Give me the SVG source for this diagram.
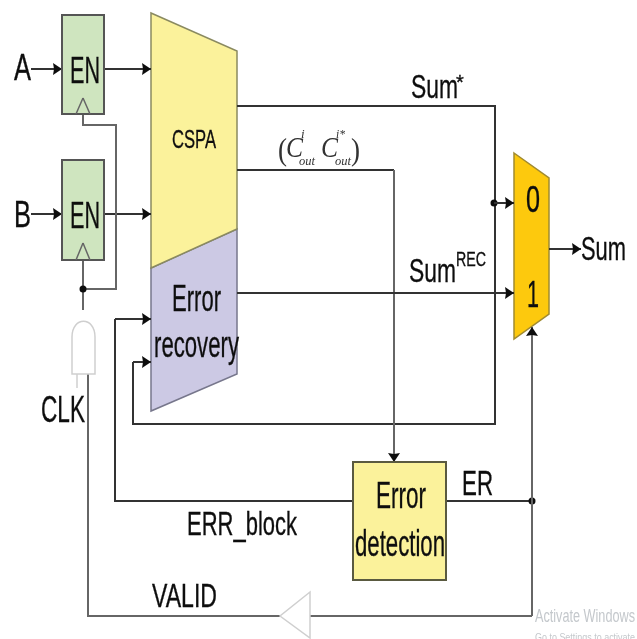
<svg xmlns="http://www.w3.org/2000/svg" width="637" height="639" viewBox="0 0 637 639">
<defs>
<filter id="soft" x="-5%" y="-5%" width="110%" height="110%"><feGaussianBlur stdDeviation="0.6"/></filter>
<marker id="arr" markerUnits="userSpaceOnUse" markerWidth="10" markerHeight="14" refX="9" refY="6" orient="auto"><path d="M0,0 L9,6 L0,12 L1,6 Z" fill="#111"/></marker>
</defs>
<style>
.w{fill:none;stroke:#333;stroke-width:2}
.g{fill:none;stroke:#666;stroke-width:2}
.a{marker-end:url(#arr)}
.en{fill:#cfe5bf;stroke:#555;stroke-width:2}
.t{font-family:"Liberation Sans",Arial,sans-serif;fill:#111;stroke:#111;stroke-width:.35;font-size:37px}
.m{font-family:"Liberation Serif","Times New Roman",serif;font-style:italic;fill:#333}
.pale{fill:#fff;stroke:#cfcfcf;stroke-width:1.5}
</style>
<rect width="637" height="639" fill="#fff"/>
<g filter="url(#soft)">
<g id="error-recovery">
<path d="M151,268 L237,229 V374 L151,411 Z" fill="#ccc9e4" stroke="#77778c" stroke-width="1.5"/>
<text class="t" x="172" y="311" textLength="49" lengthAdjust="spacingAndGlyphs">Error</text>
<text class="t" x="154" y="357" textLength="85" lengthAdjust="spacingAndGlyphs">recovery</text>
</g>
<g id="cspa">
<path d="M151,13 L237,51 V229 L151,268 Z" fill="#fbf29b" stroke="#8a8a60" stroke-width="1.5"/>
<text class="t" x="172" y="148" style="font-size:26px" textLength="44" lengthAdjust="spacingAndGlyphs">CSPA</text>
</g>
<g id="mux">
<path d="M514,153 L549,178 V314 L514,339 Z" fill="#fdc90a" stroke="#a08a30" stroke-width="1.5"/>
<text class="t" x="526" y="212" textLength="14" lengthAdjust="spacingAndGlyphs">0</text>
<text class="t" x="527" y="307" textLength="12" lengthAdjust="spacingAndGlyphs">1</text>
</g>
<g id="connectors">
<path class="w a" d="M31,69H62"/>
<path class="w a" d="M104,69H151"/>
<path class="w a" d="M31,214H62"/>
<path class="w a" d="M104,214H151"/>
<path class="g" d="M83,114V125H116V289H83"/>
<path class="g" d="M83,260V310"/>
<circle cx="83" cy="289" r="3.5" fill="#111"/>
<path class="w" d="M237,106H495V424H133V362"/>
<path class="w a" d="M133,362H151"/>
<path class="w" d="M237,170H394"/>
<path class="g a" d="M394,170V462"/>
<path class="w a" d="M237,293H514"/>
<circle cx="494" cy="203" r="3.5" fill="#111"/>
<path class="w a" d="M494,203H514"/>
<path class="w a" d="M549,249H581"/>
<path class="w" d="M446,501H532"/>
<circle cx="532" cy="501" r="3.5" fill="#111"/>
<path class="w" d="M353,501H115V319"/>
<path class="w a" d="M115,319H151"/>
<path class="g" d="M310,616H532"/>
<path class="g a" d="M532,616V327"/>
<path class="g" d="M280,616H88V374"/>
<path d="M77,374V388" fill="none" stroke="#cfcfcf" stroke-width="1.5"/>
</g>
<g id="en-a">
<rect class="en" x="62" y="15" width="42" height="99"/>
<path d="M83,98 L76,114 M83,98 L90,114" fill="none" stroke="#666" stroke-width="1.5"/>
<text class="t" x="70" y="83" textLength="30" lengthAdjust="spacingAndGlyphs">EN</text>
</g>
<g id="en-b">
<rect class="en" x="62" y="160" width="42" height="100"/>
<path d="M83,243 L76,260 M83,243 L90,260" fill="none" stroke="#666" stroke-width="1.5"/>
<text class="t" x="70" y="228" textLength="30" lengthAdjust="spacingAndGlyphs">EN</text>
</g>
<g id="error-detection">
<rect x="353" y="462" width="93" height="118" fill="#fbf29b" stroke="#5a5a40" stroke-width="2"/>
<text class="t" x="376" y="508" textLength="50" lengthAdjust="spacingAndGlyphs">Error</text>
<text class="t" x="355" y="556" textLength="90" lengthAdjust="spacingAndGlyphs">detection</text>
</g>
<g id="and-gate">
<path class="pale" d="M72,374 V337 C72,316 95,316 95,337 V374 Z"/>
</g>
<g id="buffer">
<path class="pale" d="M310,592 L280,616 L310,638 Z"/>
</g>
<g id="labels">
<text class="t" x="14" y="80" textLength="17" lengthAdjust="spacingAndGlyphs">A</text>
<text class="t" x="14" y="227" textLength="17" lengthAdjust="spacingAndGlyphs">B</text>
<text class="t" x="41" y="422" textLength="44" lengthAdjust="spacingAndGlyphs">CLK</text>
<text class="t" x="411" y="98" style="font-size:33px" textLength="47" lengthAdjust="spacingAndGlyphs">Sum</text>
<text class="t" x="456" y="89" style="font-size:20px">*</text>
<text class="t" x="409" y="282" style="font-size:33px" textLength="47" lengthAdjust="spacingAndGlyphs">Sum</text>
<text class="t" x="456" y="266" style="font-size:21px" textLength="30" lengthAdjust="spacingAndGlyphs">REC</text>
<text class="t" x="581" y="260" style="font-size:33px" textLength="45" lengthAdjust="spacingAndGlyphs">Sum</text>
<text class="t" x="462" y="495" style="font-size:35px" textLength="31" lengthAdjust="spacingAndGlyphs">ER</text>
<text class="t" x="187" y="535" style="font-size:33px" textLength="110" lengthAdjust="spacingAndGlyphs">ERR_block</text>
<text class="t" x="152" y="607" style="font-size:33px" textLength="65" lengthAdjust="spacingAndGlyphs">VALID</text>
<text class="m" x="278" y="160" style="font-style:normal;font-size:32px" textLength="9" lengthAdjust="spacingAndGlyphs">(</text>
<text class="m" x="286" y="157" style="font-size:30px" textLength="17" lengthAdjust="spacingAndGlyphs">C</text>
<text class="m" x="301" y="138" style="font-size:13px">i</text>
<text class="m" x="299" y="165" style="font-size:12px" textLength="16" lengthAdjust="spacingAndGlyphs">out</text>
<text class="m" x="321" y="157" style="font-size:30px" textLength="17" lengthAdjust="spacingAndGlyphs">C</text>
<text class="m" x="336" y="138" style="font-size:13px" textLength="9" lengthAdjust="spacingAndGlyphs">i*</text>
<text class="m" x="335" y="165" style="font-size:12px" textLength="16" lengthAdjust="spacingAndGlyphs">out</text>
<text class="m" x="351" y="160" style="font-style:normal;font-size:32px" textLength="9" lengthAdjust="spacingAndGlyphs">)</text>
<text x="535" y="622" style="font-family:'Liberation Sans',Arial,sans-serif;font-size:18px;fill:#c4c8cc" textLength="100" lengthAdjust="spacingAndGlyphs">Activate Windows</text>
<text x="535" y="641" style="font-family:'Liberation Sans',Arial,sans-serif;font-size:11px;fill:#c4c8cc" textLength="100" lengthAdjust="spacingAndGlyphs">Go to Settings to activate</text>
</g>
</g>
</svg>
